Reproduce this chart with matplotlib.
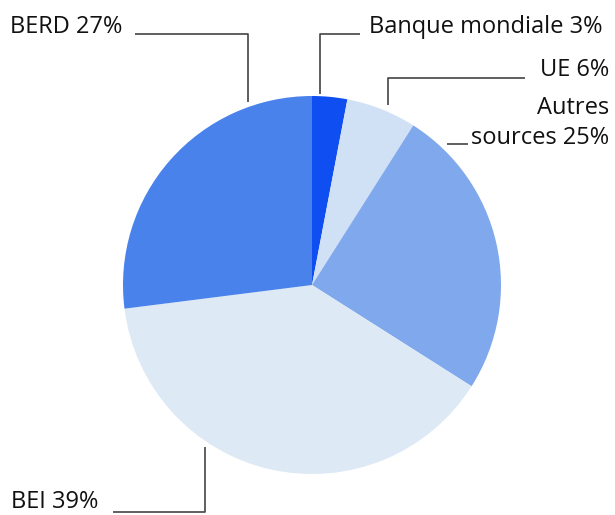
import matplotlib.pyplot as plt

labels = ['Banque mondiale 3%', 'UE 6%', 'Autres\nsources 25%', 'BEI 39%', 'BERD 27%']
shares = [3, 6, 25, 39, 27]
colors = ['#0f4ff2', '#d1e1f5', '#80a8ec', '#dde9f4', '#4a82ec']

W, H = 615, 515
fig = plt.figure(figsize=(W / 100, H / 100), dpi=100)
ax = fig.add_axes([0, 0, 1, 1])

cx, cy, r = 312, H - 285, 189
ax.pie(shares, colors=colors, startangle=90, counterclock=False,
       center=(cx, cy), radius=r, frame=True,
       wedgeprops=dict(linewidth=0))
ax.set_xlim(0, W)
ax.set_ylim(0, H)
ax.set_aspect('equal')
ax.axis('off')

# connector polylines in pixel coords (top-left origin) and text anchors
lines = [
    [(320, 94), (320, 34), (360, 34)],
    [(388, 105), (388, 78), (525, 78)],
    [(447, 144), (468, 144)],
    [(205, 447), (205, 512), (113, 512)],
    [(248, 102), (248, 34), (135, 34)],
]
texts = [
    (369, 27, 'left'),
    (609, 70, 'right'),
    (609, 123, 'right'),
    (11, 502, 'left'),
    (10, 27, 'left'),
]
for pts, (tx, ty, ha), lab in zip(lines, texts, labels):
    xs = [p[0] for p in pts]
    ys = [H - p[1] for p in pts]
    ax.plot(xs, ys, color='#444444', lw=1.2, solid_capstyle='butt')
    ax.text(tx, H - ty, lab, ha=ha, va='center', fontsize=17,
            family='Open Sans', color='#111111', linespacing=1.3,
            multialignment='right')

fig.savefig('out.png', dpi=100)
